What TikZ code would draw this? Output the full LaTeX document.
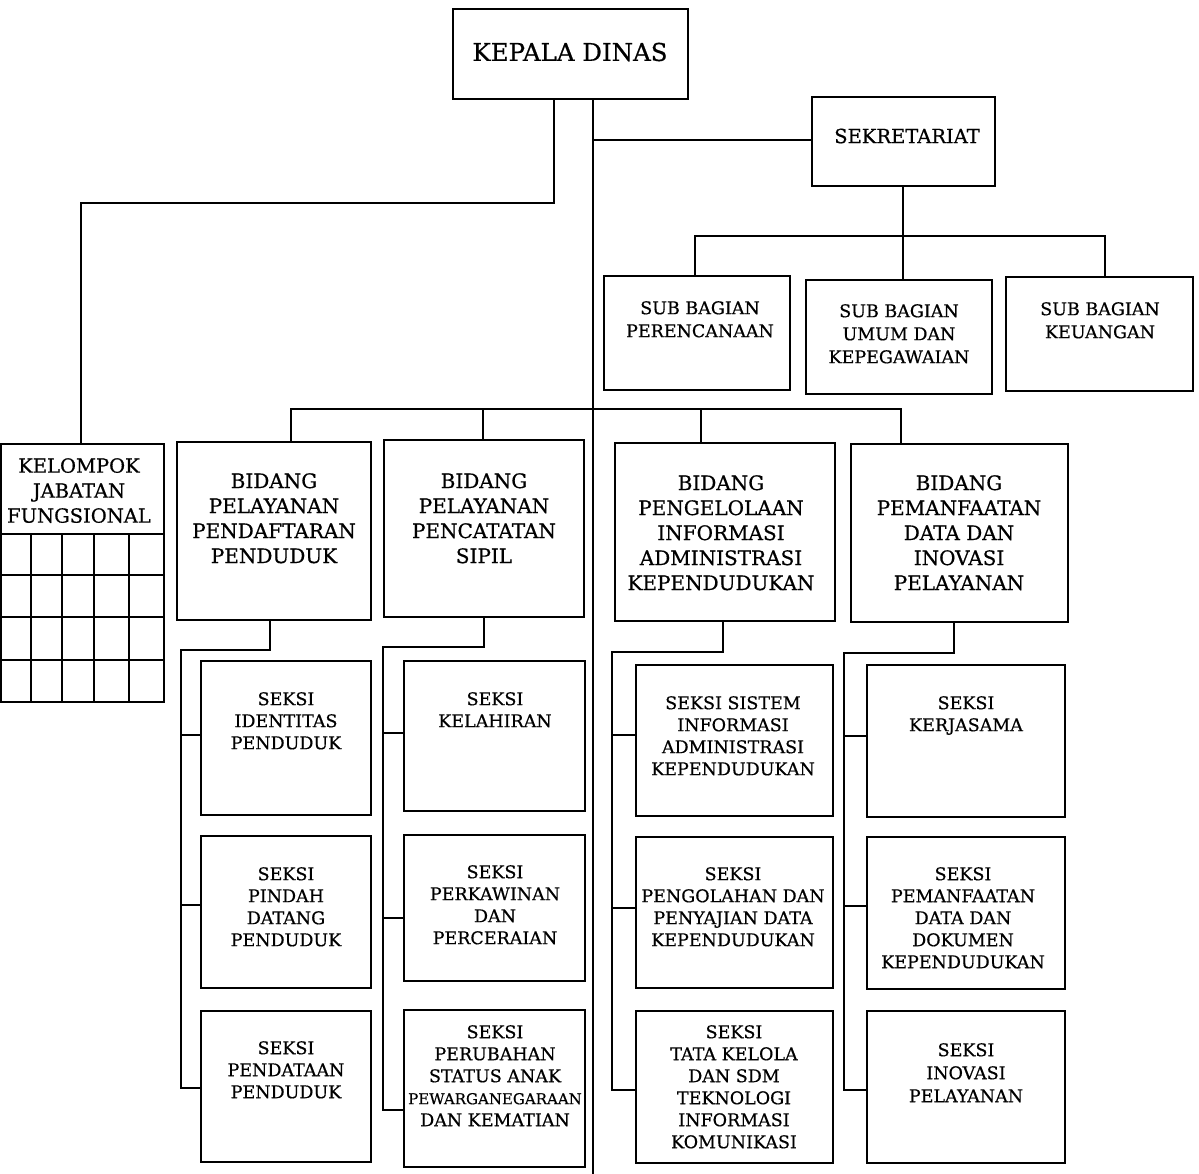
\documentclass[tikz,border=0pt]{standalone}
\usepackage{fontspec}
\setmainfont[FakeBold=0.6]{DejaVu Serif}
\newcommand\fkd{\fontsize{24.5}{30}\selectfont}
\newcommand\fbid{\fontsize{20}{25}\selectfont}
\newcommand\fsek{\fontsize{19.5}{25}\selectfont}
\newcommand\fsub{\fontsize{17.5}{23}\selectfont}
\newcommand\fsk{\fontsize{17.5}{22}\selectfont}
\newcommand\fskb{\fontsize{17.5}{23}\selectfont}
\newcommand\bx[5]{\node[box,anchor=north west,minimum width={(#4-#2)*1pt},minimum height={(#5-#3)*1pt}] (#1) at (#2,#3) {};}
\newcommand\tx[5]{\node[anchor=north,align=center,inner sep=0pt,font=#4] (#1) at (#2,#3) {#5};}
\begin{document}
\begin{tikzpicture}[x=1pt,y=-1pt,
  box/.style={draw=black,line width=2.2pt,inner sep=0pt,outer sep=0pt,fill=none},
  conn/.style={draw=black,line width=2pt},
  gridl/.style={draw=black,line width=2pt}]
\useasboundingbox (0,0) rectangle (1199,1174);
% boxes
\bx{kd}{453}{9}{688}{99}
\bx{sek}{812}{97}{995}{186}
\bx{sbp}{604}{276}{790}{390}
\bx{sbu}{806}{280}{992}{394}
\bx{sbk}{1006}{277}{1193}{391}
\bx{kjf}{1}{444}{164}{702}
\bx{b1}{177}{442}{371}{620}
\bx{b2}{384}{440}{584}{617}
\bx{b3}{615}{443}{835}{621}
\bx{b4}{851}{444}{1068}{622}
\bx{s11}{201}{661}{371}{815}
\bx{s12}{201}{836}{371}{988}
\bx{s13}{201}{1011}{371}{1162}
\bx{s21}{404}{661}{585}{811}
\bx{s22}{404}{835}{585}{981}
\bx{s23}{404}{1010}{585}{1167}
\bx{s31}{636}{665}{833}{816}
\bx{s32}{636}{837}{833}{988}
\bx{s33}{636}{1011}{833}{1163}
\bx{s41}{867}{665}{1065}{817}
\bx{s42}{867}{837}{1065}{989}
\bx{s43}{867}{1011}{1065}{1163}
% texts
\node[inner sep=0pt,font=\fkd] (kdt) at (570,52) {KEPALA DINAS};
\node[inner sep=0pt,font=\fsek] (sekt) at (907,136) {SEKRETARIAT};
\tx{sbpt}{700}{301}{\fsub}{SUB BAGIAN\\PERENCANAAN}
\tx{sbut}{899}{304}{\fsub}{SUB BAGIAN\\UMUM DAN\\KEPEGAWAIAN}
\tx{sbkt}{1100}{302}{\fsub}{SUB BAGIAN\\KEUANGAN}
\tx{kjft}{79}{458}{\fsek}{KELOMPOK\\JABATAN\\FUNGSIONAL}
\tx{b1t}{274}{473}{\fbid}{BIDANG\\PELAYANAN\\PENDAFTARAN\\PENDUDUK}
\tx{b2t}{484}{473}{\fbid}{BIDANG\\PELAYANAN\\PENCATATAN\\SIPIL}
\tx{b3t}{721}{475}{\fbid}{BIDANG\\PENGELOLAAN\\INFORMASI\\ADMINISTRASI\\KEPENDUDUKAN}
\tx{b4t}{959}{475}{\fbid}{BIDANG\\PEMANFAATAN\\DATA DAN\\INOVASI\\PELAYANAN}
\tx{s11t}{286}{692}{\fsk}{SEKSI\\IDENTITAS\\PENDUDUK}
\tx{s12t}{286}{867}{\fsk}{SEKSI\\PINDAH\\DATANG\\PENDUDUK}
\tx{s13t}{286}{1041}{\fsk}{SEKSI\\PENDATAAN\\PENDUDUK}
\tx{s21t}{495}{692}{\fsk}{SEKSI\\KELAHIRAN}
\tx{s22t}{495}{865}{\fsk}{SEKSI\\PERKAWINAN\\DAN\\PERCERAIAN}
\tx{s23t}{495}{1025}{\fsk}{SEKSI\\PERUBAHAN\\STATUS ANAK\\{\fontsize{15}{22}\selectfont PEWARGANEGARAAN}\\DAN KEMATIAN}
\tx{s31t}{733}{696}{\fsk}{SEKSI SISTEM\\INFORMASI\\ADMINISTRASI\\KEPENDUDUKAN}
\tx{s32t}{733}{867}{\fsk}{SEKSI\\PENGOLAHAN DAN\\PENYAJIAN DATA\\KEPENDUDUKAN}
\tx{s33t}{734}{1025}{\fsk}{SEKSI\\TATA KELOLA\\DAN SDM\\TEKNOLOGI\\INFORMASI\\KOMUNIKASI}
\tx{s41t}{966}{696}{\fsk}{SEKSI\\KERJASAMA}
\tx{s42t}{963}{867}{\fsk}{SEKSI\\PEMANFAATAN\\DATA DAN\\DOKUMEN\\KEPENDUDUKAN}
\tx{s43t}{966}{1043}{\fskb}{SEKSI\\INOVASI\\PELAYANAN}
% grid inside KELOMPOK
\foreach \yy in {534,575,617,660}{\draw[gridl] (kjf.west |- 0,\yy) -- (kjf.east |- 0,\yy);}
\foreach \xx in {31,62,94,129}{\draw[gridl] (\xx,534) -- (\xx,0 |- kjf.south);}
% connectors
\coordinate (spineEnd) at (593,1174);
\draw[conn] (593,0 |- kd.south) -- (spineEnd);
\draw[conn] (554,0 |- kd.south) -- (554,203) -- (81,203) -- (81,0 |- kjf.north);
\draw[conn] (593,140) -- (sek.west |- 0,140);
\draw[conn] (903,0 |- sek.south) -- (903,236);
\draw[conn] (695,0 |- sbp.north) -- (695,236) -- (1105,236) -- (1105,0 |- sbk.north);
\draw[conn] (903,236) -- (903,0 |- sbu.north);
\draw[conn] (291,0 |- b1.north) -- (291,409) -- (901,409) -- (901,0 |- b4.north);
\draw[conn] (483,409) -- (483,0 |- b2.north);
\draw[conn] (701,409) -- (701,0 |- b3.north);
% bidang 1
\draw[conn] (270,0 |- b1.south) -- (270,650) -- (181,650) -- (181,1089);
\draw[conn] (181,735) -- (s11.west |- 0,735);
\draw[conn] (181,905) -- (s12.west |- 0,905);
\draw[conn] (181,1088) -- (s13.west |- 0,1088);
% bidang 2
\draw[conn] (484,0 |- b2.south) -- (484,647) -- (383,647) -- (383,1111);
\draw[conn] (383,733) -- (s21.west |- 0,733);
\draw[conn] (383,918) -- (s22.west |- 0,918);
\draw[conn] (383,1110) -- (s23.west |- 0,1110);
% bidang 3
\draw[conn] (723,0 |- b3.south) -- (723,652) -- (612,652) -- (612,1091);
\draw[conn] (612,735) -- (s31.west |- 0,735);
\draw[conn] (612,908) -- (s32.west |- 0,908);
\draw[conn] (612,1090) -- (s33.west |- 0,1090);
% bidang 4
\draw[conn] (954,0 |- b4.south) -- (954,653) -- (844,653) -- (844,1091);
\draw[conn] (844,736) -- (s41.west |- 0,736);
\draw[conn] (844,906) -- (s42.west |- 0,906);
\draw[conn] (844,1090) -- (s43.west |- 0,1090);
\end{tikzpicture}
\end{document}
